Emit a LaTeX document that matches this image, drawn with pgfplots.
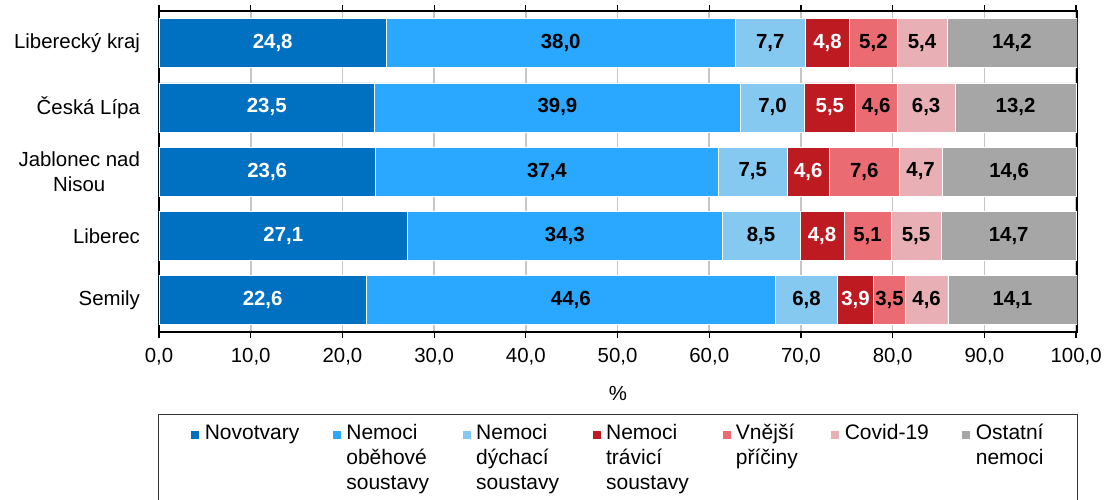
\documentclass[border=0pt]{standalone}
\usepackage{pgfplots}
\pgfplotsset{compat=1.18}
\usepackage{pgfplotstable}
\usepackage{fontspec}
\setmainfont{Liberation Sans}

\definecolor{cNovo}{HTML}{0070C0}
\definecolor{cObeh}{HTML}{2AA8FF}
\definecolor{cDych}{HTML}{85C8F0}
\definecolor{cTrav}{HTML}{BE1A22}
\definecolor{cVnej}{HTML}{EB6B73}
\definecolor{cCovid}{HTML}{E8B0B4}
\definecolor{cOst}{HTML}{A6A6A6}

\pgfplotstableread{
y novo obeh dych trav vnej covid ost
0 24.8 38.0 7.7 4.8 5.2 5.4 14.2
1 23.5 39.9 7.0 5.5 4.6 6.3 13.2
2 23.6 37.4 7.5 4.6 7.6 4.7 14.6
3 27.1 34.3 8.5 4.8 5.1 5.5 14.7
4 22.6 44.6 6.8 3.9 3.5 4.6 14.1
}\data

\pgfplotsset{
  numfmt/.style={/pgf/number format/fixed, /pgf/number format/fixed zerofill,
    /pgf/number format/precision=1, /pgf/number format/use comma,
    /pgf/number format/assume math mode=true},
}
\newcommand{\legtext}[1]{\vtop{\baselineskip=12.5pt #1}}

\begin{document}
\fontsize{10}{12.5}\selectfont
\begin{tikzpicture}
\begin{axis}[
  at={(0,0)}, anchor=north west,
  scale only axis,
  width=459pt, height=160.5pt,
  xbar stacked,
  bar width=24.5pt,
  xmin=0, xmax=100.1,
  ymin=-0.5, ymax=4.5,
  y dir=reverse,
  ytick={0,1,2,3,4},
  yticklabels={Liberecký kraj, Česká Lípa, {Jablonec nad\\Nisou}, Liberec, Semily},
  yticklabel style={align=center, xshift=-3pt, font=\fontsize{10.2}{12.5}\selectfont},
  ytick style={draw=none},
  xtick={0,10,...,100},
  xticklabel style={/pgfplots/numfmt, yshift=-1.5pt, font=\fontsize{10.2}{12}\selectfont},
  tick align=outside,
  major tick length=3pt,
  xtick style={black, line width=0.6pt},
  axis line style={black, line width=0.6pt},
  xmajorgrids,
  grid style={gray!45, line width=0.8pt},
  xlabel={\%},
  xlabel style={yshift=-4pt, font=\fontsize{10.2}{12}\selectfont},
  nodes near coords,
  point meta=rawx,
  every node near coord/.style={anchor=center,
    font=\bfseries\fontsize{10.2}{12}\selectfont, black, /pgfplots/numfmt},
  legend style={at={(0.5,-0.255)}, anchor=north, draw=black!80, thin,
    legend columns=7, column sep=1.5pt, inner xsep=16pt, inner ysep=4pt,
    font=\fontsize{10.5}{12.5}\selectfont,
    /tikz/every even column/.append style={column sep=15.3pt},
    nodes={anchor=base west, inner sep=1pt, text depth=28pt}},
  legend cell align=left,
  legend image code/.code={\fill[#1] (0pt,0.5pt) rectangle (4.5pt,5pt);},
  clip=true,
]
\addplot[fill=cNovo, draw=white, line width=0.2pt, every node near coord/.append style={white}] table[x=novo, y=y] {\data};
\addplot[fill=cObeh, draw=white, line width=0.2pt] table[x=obeh, y=y] {\data};
\addplot[fill=cDych, draw=white, line width=0.2pt] table[x=dych, y=y] {\data};
\addplot[fill=cTrav, draw=white, line width=0.2pt, every node near coord/.append style={white}] table[x=trav, y=y] {\data};
\addplot[fill=cVnej, draw=white, line width=0.2pt] table[x=vnej, y=y] {\data};
\addplot[fill=cCovid, draw=white, line width=0.2pt] table[x=covid, y=y] {\data};
\addplot[fill=cOst, draw=white, line width=0.2pt] table[x=ost, y=y] {\data};
\legend{Novotvary,
  \legtext{\hbox{Nemoci}\hbox{oběhové}\hbox{soustavy}},
  \legtext{\hbox{Nemoci}\hbox{dýchací}\hbox{soustavy}},
  \legtext{\hbox{Nemoci}\hbox{trávicí}\hbox{soustavy}},
  \legtext{\hbox{Vnější}\hbox{příčiny}},
  Covid-19,
  \legtext{\hbox{Ostatní}\hbox{nemoci}}}
\end{axis}
\pgfresetboundingbox
\path[use as bounding box] (-79.5pt,5.5pt) rectangle (473.5pt,-244pt);
\end{tikzpicture}
\end{document}
